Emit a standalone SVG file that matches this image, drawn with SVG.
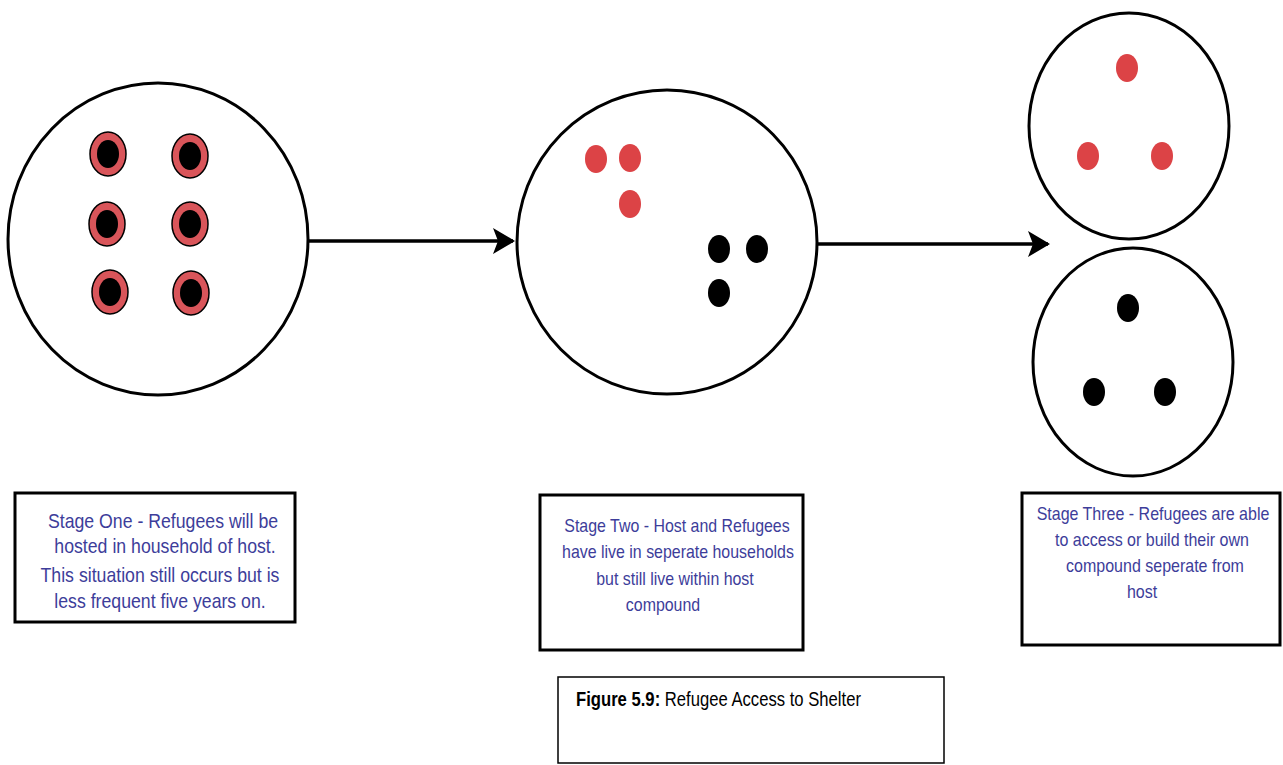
<svg xmlns="http://www.w3.org/2000/svg" width="1283" height="765" viewBox="0 0 1283 765">
<style>
.ring{fill:none;stroke:#000;stroke-width:3}
.box{fill:#fff;stroke:#000;stroke-width:3}
.cap{fill:#fff;stroke:#000;stroke-width:1.5}
.red{fill:#dc4346}
.blk{fill:#000}
.outer{fill:#d9555a;stroke:#000;stroke-width:1.5}
.t{font-family:"Liberation Sans",Arial,sans-serif;font-size:20px;fill:#3d3d9a;text-anchor:middle}
.t2{font-family:"Liberation Sans",Arial,sans-serif;font-size:18px;fill:#3d3d9a;text-anchor:middle}
.c{font-family:"Liberation Sans",Arial,sans-serif;font-size:20px;fill:#000}
.conn{stroke:#000;stroke-width:3.5;fill:none}
</style>
<defs>
<marker id="ah" viewBox="0 0 22 26" refX="20" refY="13" markerWidth="22" markerHeight="26" markerUnits="userSpaceOnUse" orient="auto">
<path d="M0,0 L22,13 L0,26 L5,13 Z" fill="#000"/>
</marker>
</defs>
<rect width="1283" height="765" fill="#fff"/>

<g id="stage1-circle">
<ellipse class="ring" cx="158" cy="239" rx="150" ry="156"/>
<ellipse class="outer" cx="108" cy="154" rx="18" ry="22"/><ellipse class="blk" cx="108" cy="154" rx="11" ry="14"/>
<ellipse class="outer" cx="190" cy="156" rx="18" ry="22"/><ellipse class="blk" cx="190" cy="156" rx="11" ry="14"/>
<ellipse class="outer" cx="107" cy="224" rx="18" ry="22"/><ellipse class="blk" cx="107" cy="224" rx="11" ry="14"/>
<ellipse class="outer" cx="190" cy="224" rx="18" ry="22"/><ellipse class="blk" cx="190" cy="224" rx="11" ry="14"/>
<ellipse class="outer" cx="110" cy="292" rx="18" ry="22"/><ellipse class="blk" cx="110" cy="292" rx="11" ry="14"/>
<ellipse class="outer" cx="191" cy="293" rx="18" ry="22"/><ellipse class="blk" cx="191" cy="293" rx="11" ry="14"/>
</g>

<g id="stage2-circle">
<ellipse class="ring" cx="667" cy="242" rx="150" ry="152"/>
<ellipse class="red" cx="596" cy="159" rx="11" ry="14"/>
<ellipse class="red" cx="630" cy="158" rx="11" ry="14"/>
<ellipse class="red" cx="630" cy="204" rx="11" ry="14"/>
<ellipse class="blk" cx="719" cy="249" rx="11" ry="14"/>
<ellipse class="blk" cx="757" cy="249" rx="11" ry="14"/>
<ellipse class="blk" cx="719" cy="293" rx="11" ry="14"/>
</g>

<g id="stage3-top-circle">
<ellipse class="ring" cx="1129" cy="126" rx="100" ry="113"/>
<ellipse class="red" cx="1127" cy="68" rx="11" ry="14"/>
<ellipse class="red" cx="1088" cy="156" rx="11" ry="14"/>
<ellipse class="red" cx="1162" cy="156" rx="11" ry="14"/>
</g>

<g id="stage3-bottom-circle">
<ellipse class="ring" cx="1133" cy="362" rx="100" ry="114"/>
<ellipse class="blk" cx="1128" cy="308" rx="11" ry="14"/>
<ellipse class="blk" cx="1094" cy="392" rx="11" ry="14"/>
<ellipse class="blk" cx="1165" cy="392" rx="11" ry="14"/>
</g>

<g id="connectors">
<line class="conn" x1="309" y1="241" x2="513" y2="241" marker-end="url(#ah)"/>
<line class="conn" x1="818" y1="244" x2="1048" y2="244" marker-end="url(#ah)"/>
</g>

<g id="stage1-box">
<rect class="box" x="15" y="493" width="280" height="129"/>
<text class="t" transform="translate(163,528) scale(0.885,1)">Stage One - Refugees will be</text>
<text class="t" transform="translate(165,553) scale(0.885,1)">hosted in household of host.</text>
<text class="t" transform="translate(160,582) scale(0.885,1)">This situation still occurs but is</text>
<text class="t" transform="translate(160,608) scale(0.885,1)">less frequent five years on.</text>
</g>

<g id="stage2-box">
<rect class="box" x="540" y="495" width="263" height="155"/>
<text class="t2" transform="translate(677,532) scale(0.885,1)">Stage Two - Host and Refugees</text>
<text class="t2" transform="translate(678,558) scale(0.885,1)">have live in seperate households</text>
<text class="t2" transform="translate(675,585) scale(0.885,1)">but still live within host</text>
<text class="t2" transform="translate(663,611) scale(0.885,1)">compound</text>
</g>

<g id="stage3-box">
<rect class="box" x="1022" y="493" width="258" height="152"/>
<text class="t2" transform="translate(1153,520) scale(0.89,1)">Stage Three - Refugees are able</text>
<text class="t2" transform="translate(1152,546) scale(0.89,1)">to access or build their own</text>
<text class="t2" transform="translate(1155,572) scale(0.89,1)">compound seperate from</text>
<text class="t2" transform="translate(1142,598) scale(0.89,1)">host</text>
</g>

<g id="caption">
<rect class="cap" x="558" y="677" width="386" height="86"/>
<text class="c" transform="translate(576,706) scale(0.833,1)"><tspan font-weight="bold">Figure 5.9:</tspan> Refugee Access to Shelter</text>
</g>
</svg>
